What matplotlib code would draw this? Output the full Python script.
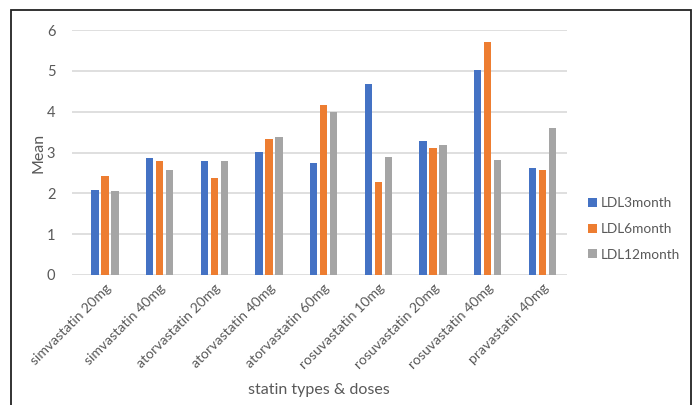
import numpy as np
import matplotlib
matplotlib.use("Agg")
import matplotlib.pyplot as plt
from matplotlib.patches import Rectangle

# mean LDL per statin type & dose
statins = ["simvastatin 20mg", "simvastatin 40mg", "atorvastatin 20mg",
           "atorvastatin 40mg", "atorvastatin 60mg", "rosuvastatin 10mg",
           "rosuvastatin 20mg", "rosuvastatin 40mg", "pravastatin 40mg"]
ldl3 = [2.09, 2.86, 2.79, 3.02, 2.74, 4.67, 3.29, 5.02, 2.62]
ldl6 = [2.42, 2.79, 2.38, 3.32, 4.17, 2.28, 3.12, 5.71, 2.58]
ldl12 = [2.06, 2.58, 2.79, 3.39, 3.98, 2.88, 3.19, 2.82, 3.59]
series = ["LDL3month", "LDL6month", "LDL12month"]
colors = ["#4472C4", "#ED7D31", "#A5A5A5"]

plt.rcParams['font.family'] = ['Lato', 'DejaVu Sans']
txt = "#595959"

fig = plt.figure(figsize=(6.94, 4.05), dpi=100)
W, H = 694, 405
ax = fig.add_axes([72/W, (H-275)/H, (567-72)/W, (275-30)/H])

x = np.arange(len(statins))
step = 0.183
width = 0.135
for i, (vals, name, c) in enumerate(zip([ldl3, ldl6, ldl12], series, colors)):
    ax.bar(x + (i-1)*step, vals, width, color=c, label=name, zorder=3)

ax.set_ylim(0, 6)
ax.set_xlim(-0.6, 8.45)
ax.set_yticks(range(0, 7))
ax.yaxis.grid(True, color="#D9D9D9", lw=1.2, zorder=0)
for s in ax.spines.values():
    s.set_visible(False)
ax.tick_params(axis='both', length=0, colors=txt, labelsize=10.5)
ax.tick_params(axis='y', pad=12)
ax.set_xticks(x)
ax.set_xticklabels(statins, rotation=45, ha='right', rotation_mode='anchor', fontsize=10.1)
ax.tick_params(axis='x', pad=5)
ax.set_ylabel("Mean", color=txt, fontsize=11.5, va='center')
ax.yaxis.set_label_coords((38-72)/495, (275-153)/245)
ax.set_xlabel("statin types & doses", color=txt, fontsize=11.5, va='center')
ax.xaxis.set_label_coords((319-72)/495, (275-390)/245)

leg = ax.legend(loc='center left', bbox_to_anchor=((583-72)/(567-72), 1 - (229-30)/(275-30)),
                frameon=False, fontsize=9.8, handlelength=0.6, handleheight=0.6,
                handletextpad=0.3, labelspacing=1.0, borderaxespad=0)
for t in leg.get_texts():
    t.set_color(txt)

# outer frame around the chart
fig.patches.append(Rectangle((11/W, -0.02), (691-11)/W, 1.02 - 10/H, transform=fig.transFigure,
                             fill=False, edgecolor="#222222", lw=1.3))

fig.savefig("out.png", dpi=100)
